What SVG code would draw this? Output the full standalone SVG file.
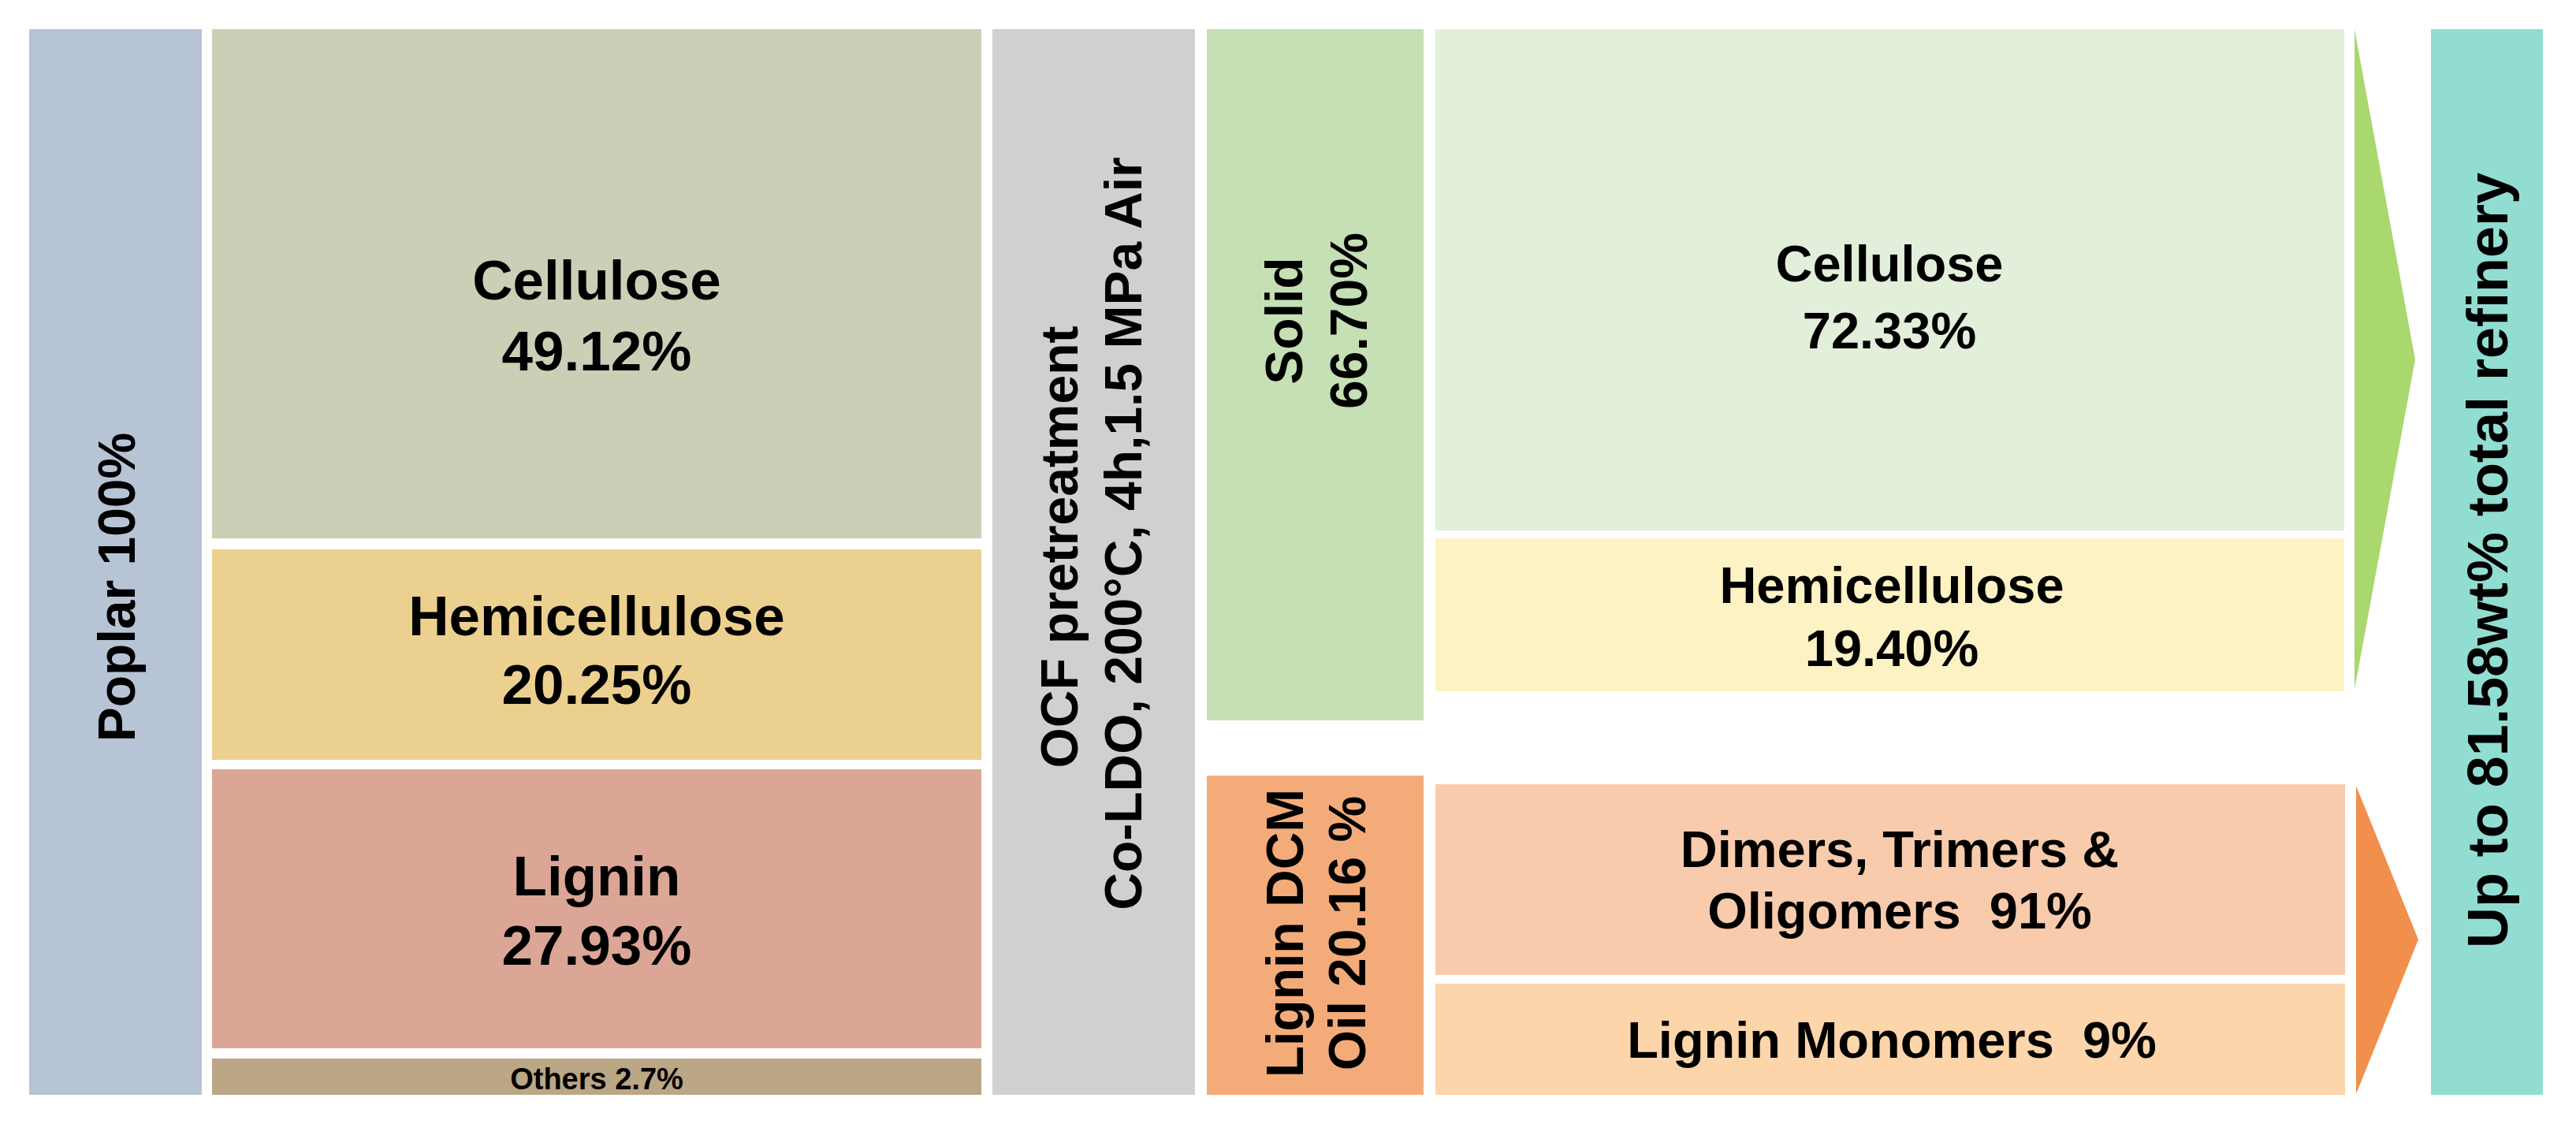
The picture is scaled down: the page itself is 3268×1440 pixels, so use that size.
<svg xmlns="http://www.w3.org/2000/svg" width="3268" height="1440" viewBox="0 0 3268 1440">
<style>
text{font-family:"Liberation Sans",Arial,sans-serif;font-weight:bold;fill:#000;text-anchor:middle}
.l{font-size:71px}
.r{font-size:65px}
.v{font-size:66px}
</style>
<rect width="3268" height="1440" fill="#fff"/>
<g id="poplar">
<rect x="37" y="37" width="219" height="1352" fill="#b7c4d6"/>
<text class="v" transform="translate(171,745) rotate(-90)">Poplar 100%</text>
</g>
<g id="cellulose">
<rect x="269" y="37" width="976" height="646" fill="#cad0b6"/>
<text class="l" x="757" y="380">Cellulose</text>
<text class="l" x="757" y="470">49.12%</text>
</g>
<g id="hemicellulose">
<rect x="269" y="697" width="976" height="267" fill="#ecd08f"/>
<text class="l" x="757" y="806">Hemicellulose</text>
<text class="l" x="757" y="893">20.25%</text>
</g>
<g id="lignin">
<rect x="269" y="976" width="976" height="354" fill="#dba695"/>
<text class="l" x="757" y="1136">Lignin</text>
<text class="l" x="757" y="1224">27.93%</text>
</g>
<g id="others">
<rect x="269" y="1343" width="976" height="46" fill="#bba685"/>
<text x="757" y="1382" font-size="38">Others 2.7%</text>
</g>
<g id="ocf">
<rect x="1259" y="37" width="257" height="1352" fill="#d0cfd1"/>
<text class="v" transform="translate(1367,694) rotate(-90)">OCF pretreatment</text>
<text class="v" transform="translate(1448,677) rotate(-90)">Co-LDO, 200°C, 4h,1.5 MPa Air</text>
</g>
<g id="solid">
<rect x="1531" y="37" width="275" height="877" fill="#c5e0b4"/>
<text class="v" transform="translate(1652,407) rotate(-90)">Solid</text>
<text class="v" transform="translate(1734,407) rotate(-90)">66.70%</text>
</g>
<g id="lignin-oil">
<rect x="1531" y="984" width="275" height="405" fill="#f4ab7a"/>
<text class="v" transform="translate(1653,1184) rotate(-90)">Lignin DCM</text>
<text class="v" transform="translate(1732,1184) rotate(-90)">Oil 20.16 %</text>
</g>
<g id="cellulose-solid">
<rect x="1821" y="37" width="1153" height="636" fill="#e2efda"/>
<text class="r" x="2397" y="357">Cellulose</text>
<text class="r" x="2397" y="442">72.33%</text>
</g>
<g id="hemicellulose-solid">
<rect x="1821" y="683" width="1153" height="194" fill="#fdf2c3"/>
<text class="r" x="2400" y="765">Hemicellulose</text>
<text class="r" x="2400" y="845">19.40%</text>
</g>
<g id="oligomers">
<rect x="1821" y="995" width="1154" height="242" fill="#f8cbad"/>
<text class="r" x="2410" y="1100">Dimers, Trimers &amp;</text>
<text class="r" x="2410" y="1178" xml:space="preserve">Oligomers  91%</text>
</g>
<g id="monomers">
<rect x="1821" y="1248" width="1154" height="141" fill="#fcd5ab"/>
<text class="r" x="2400" y="1342" xml:space="preserve">Lignin Monomers  9%</text>
</g>
<g id="connectors">
<polygon points="2987,37 3064,456 2987,875" fill="#a9d86e"/>
<polygon points="2989,997 3068,1192 2989,1388" fill="#f0904c"/>
</g>
<g id="refinery">
<rect x="3084" y="37" width="142" height="1352" fill="#92ddd1"/>
<text transform="translate(3181,711) rotate(-90)" font-size="72">Up to 81.58wt% total refinery</text>
</g>
</svg>
